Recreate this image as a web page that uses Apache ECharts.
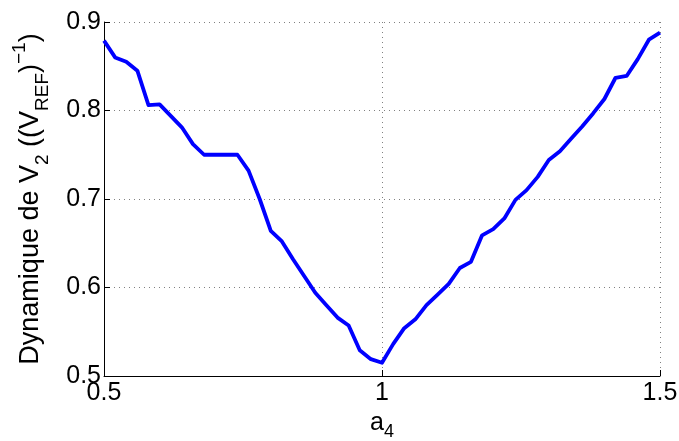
<!DOCTYPE html>
<html>
<head>
<meta charset="utf-8">
<script src="https://cdn.jsdelivr.net/npm/echarts@6/dist/echarts.min.js"></script>
<style>
  html, body { margin: 0; padding: 0; background: #fff; }
  #chart { width: 679px; height: 441px; }
</style>
</head>
<body>
<div id="chart"></div>
<script>
// Parameter a4 swept from 0.5 to 1.5
const a4 = [
  0.50, 0.52, 0.54, 0.56, 0.58, 0.60, 0.62, 0.64, 0.66, 0.68,
  0.70, 0.72, 0.74, 0.76, 0.78, 0.80, 0.82, 0.84, 0.86, 0.88,
  0.90, 0.92, 0.94, 0.96, 0.98, 1.00, 1.02, 1.04, 1.06, 1.08,
  1.10, 1.12, 1.14, 1.16, 1.18, 1.20, 1.22, 1.24, 1.26, 1.28,
  1.30, 1.32, 1.34, 1.36, 1.38, 1.40, 1.42, 1.44, 1.46, 1.48, 1.50
];
// Dynamic range of V2, in units of (V_REF)^-1
const dynamiqueV2 = [
  0.879, 0.860, 0.855, 0.845, 0.806, 0.807, 0.794, 0.781, 0.762, 0.750,
  0.750, 0.750, 0.750, 0.732, 0.700, 0.664, 0.652, 0.632, 0.613, 0.594,
  0.580, 0.566, 0.557, 0.529, 0.519, 0.515, 0.536, 0.554, 0.564, 0.580,
  0.592, 0.604, 0.622, 0.629, 0.659, 0.666, 0.678, 0.699, 0.710, 0.725,
  0.744, 0.754, 0.768, 0.782, 0.797, 0.813, 0.837, 0.839, 0.858, 0.880, 0.888
];
const xTicks = [0.5, 1, 1.5];
const yTicks = [0.5, 0.6, 0.7, 0.8, 0.9];

const chart = echarts.init(document.getElementById('chart'), null, { renderer: 'canvas' });
const font = 'Liberation Sans, Arial, Helvetica, sans-serif';
const gridLine = { show: true, lineStyle: { color: '#808080', type: [1, 4], width: 1 } };

chart.setOption({
  animation: false,
  backgroundColor: '#ffffff',
  grid: { left: 104, right: 19, top: 22, bottom: 65, containLabel: false, outerBoundsMode: 'none' },
  xAxis: {
    type: 'value',
    min: 0.5, max: 1.5, interval: 0.5,
    axisLine: { show: true, onZero: false, lineStyle: { color: '#000', width: 1 } },
    axisTick: { show: true, inside: true, length: 6, lineStyle: { color: '#000' } },
    splitLine: gridLine,
    axisLabel: {
      color: '#000', fontSize: 25, fontFamily: font, margin: 5,
      formatter: v => xTicks.includes(+v.toFixed(2)) ? String(+v.toFixed(2)) : ''
    },
    name: '{n|a}{s|4}',
    nameLocation: 'middle',
    nameGap: 27,
    nameTextStyle: {
      rich: {
        n: { fontSize: 25, fontFamily: font, color: '#000', lineHeight: 36, verticalAlign: 'middle' },
        s: { fontSize: 18, fontFamily: font, color: '#000', lineHeight: 36, verticalAlign: 'bottom' }
      }
    }
  },
  yAxis: {
    type: 'value',
    min: 0.5, max: 0.9, interval: 0.1,
    axisLine: { show: true, onZero: false, lineStyle: { color: '#000', width: 1 } },
    axisTick: { show: true, inside: true, length: 6, lineStyle: { color: '#000' } },
    splitLine: gridLine,
    axisLabel: {
      color: '#000', fontSize: 25, fontFamily: font, margin: 3,
      formatter: v => yTicks.some(t => Math.abs(t - v) < 1e-6) ? v.toFixed(1) : ''
    },
    name: '{n|Dynamique de V}{s|2}{n| ((V}{s|REF}{n|)}{p|−1}{n|)}',
    nameLocation: 'middle',
    nameRotate: 90,
    nameGap: 52,
    nameTextStyle: {
      rich: {
        n: { fontSize: 27, fontFamily: font, color: '#000', lineHeight: 42, verticalAlign: 'middle' },
        s: { fontSize: 19, fontFamily: font, color: '#000', lineHeight: 42, verticalAlign: 'bottom' },
        p: { fontSize: 19, fontFamily: font, color: '#000', lineHeight: 42, verticalAlign: 'top' }
      }
    }
  },
  series: [{
    type: 'line',
    data: a4.map((x, i) => [x, dynamiqueV2[i]]),
    showSymbol: false,
    smooth: false,
    lineStyle: { color: '#0000ff', width: 3.8, join: 'round' },
    clip: false
  }]
});
</script>
</body>
</html>
